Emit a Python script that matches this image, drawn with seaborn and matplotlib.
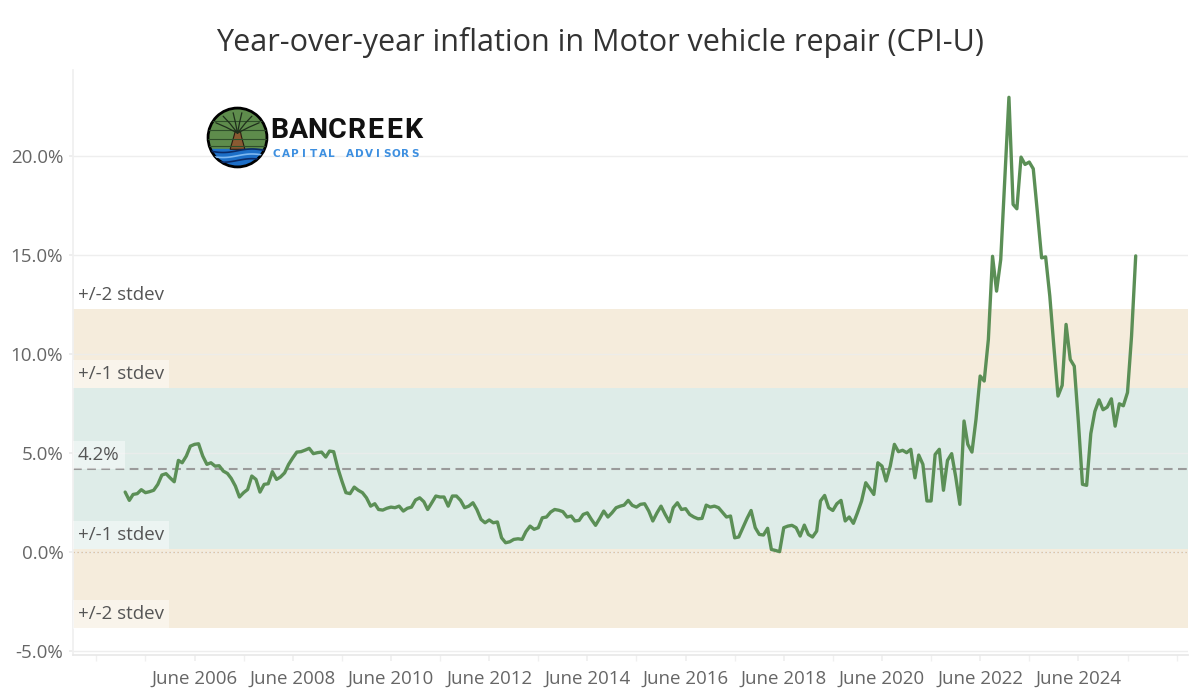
import numpy as np
import pandas as pd
import matplotlib
matplotlib.use("Agg")
import matplotlib.pyplot as plt
import matplotlib.transforms as mtransforms
from matplotlib.patches import Circle, Polygon, Rectangle
import seaborn as sns

# ---------------- data ----------------
start_month = "2005-01-01"
yoy_2005 = [3.03, 2.61, 2.91, 2.95, 3.15, 3.0, 3.05, 3.12, 3.42, 3.89, 3.96, 3.75]
yoy_2006 = [3.55, 4.63, 4.51, 4.85, 5.35, 5.44, 5.47, 4.85, 4.43, 4.51, 4.34, 4.36]
yoy_2007 = [4.09, 3.97, 3.72, 3.33, 2.78, 3.0, 3.16, 3.84, 3.67, 3.03, 3.42, 3.45]
yoy_2008 = [4.06, 3.67, 3.79, 4.0, 4.43, 4.76, 5.05, 5.07, 5.15, 5.24, 4.97, 5.02]
yoy_2009 = [5.05, 4.8, 5.1, 5.07, 4.26, 3.59, 3.0, 2.95, 3.28, 3.12, 3.0, 2.74]
yoy_2010 = [2.32, 2.44, 2.15, 2.12, 2.21, 2.27, 2.24, 2.32, 2.07, 2.21, 2.27, 2.63]
yoy_2011 = [2.74, 2.54, 2.15, 2.49, 2.83, 2.78, 2.78, 2.32, 2.83, 2.83, 2.61, 2.24]
yoy_2012 = [2.32, 2.49, 2.15, 1.65, 1.48, 1.62, 1.48, 1.52, 0.72, 0.47, 0.52, 0.64]
yoy_2013 = [0.67, 0.64, 1.03, 1.31, 1.15, 1.23, 1.73, 1.77, 2.02, 2.15, 2.11, 2.04]
yoy_2014 = [1.77, 1.82, 1.57, 1.6, 1.9, 1.98, 1.65, 1.35, 1.7, 2.07, 1.77, 1.98]
yoy_2015 = [2.24, 2.32, 2.37, 2.61, 2.36, 2.27, 2.41, 2.44, 2.07, 1.57, 1.98, 2.32]
yoy_2016 = [1.9, 1.53, 2.24, 2.49, 2.15, 2.19, 1.9, 1.77, 1.68, 1.7, 2.37, 2.27]
yoy_2017 = [2.32, 2.24, 2.02, 1.77, 1.82, 0.72, 0.76, 1.23, 1.7, 2.1, 1.23, 0.89]
yoy_2018 = [0.86, 1.2, 0.13, 0.08, 0.02, 1.23, 1.31, 1.35, 1.23, 0.81, 1.36, 0.89]
yoy_2019 = [0.76, 1.06, 2.58, 2.86, 2.24, 2.1, 2.44, 2.61, 1.57, 1.77, 1.45, 1.98]
yoy_2020 = [2.58, 3.5, 3.22, 2.91, 4.51, 4.34, 3.59, 4.34, 5.44, 5.07, 5.14, 5.02]
yoy_2021 = [5.19, 3.75, 4.9, 4.43, 2.58, 2.58, 4.93, 5.19, 3.12, 4.63, 4.97, 3.8]
yoy_2022 = [2.41, 6.62, 5.44, 5.05, 6.7, 8.89, 8.64, 10.74, 14.94, 13.18, 14.78, 18.83]
yoy_2023 = [22.97, 17.56, 17.34, 19.95, 19.58, 19.7, 19.36, 17.14, 14.86, 14.91, 12.93, 10.4]
yoy_2024 = [7.88, 8.42, 11.5, 9.73, 9.39, 6.53, 3.42, 3.37, 5.98, 7.1, 7.69, 7.19]
yoy_2025 = [7.32, 7.74, 6.36, 7.49, 7.39, 8.06, 10.9, 14.96]

mean_value = 4.2
band_1sd = [0.15, 8.27]
band_2sd = [-3.86, 12.28]
y_tick_values = [-5, 0, 5, 10, 15, 20]
x_label_years = [2006, 2008, 2010, 2012, 2014, 2016, 2018, 2020, 2022, 2024]
x_minor_years = [2004, 2005, 2007, 2009, 2011, 2013, 2015, 2017, 2019, 2021, 2023, 2025, 2026]
title_text = "Year-over-year inflation in Motor vehicle repair (CPI-U)"

values = (yoy_2005 + yoy_2006 + yoy_2007 + yoy_2008 + yoy_2009 + yoy_2010 + yoy_2011
          + yoy_2012 + yoy_2013 + yoy_2014 + yoy_2015 + yoy_2016 + yoy_2017 + yoy_2018
          + yoy_2019 + yoy_2020 + yoy_2021 + yoy_2022 + yoy_2023 + yoy_2024 + yoy_2025)
dates = pd.date_range(start_month, periods=len(values), freq="MS")
df = pd.DataFrame({"date": dates, "yoy": values})

# ---------------- style ----------------
sns.set_theme(style="white")
plt.rcParams["font.family"] = ["Open Sans", "DejaVu Sans"]

W, H = 1200, 700
fig = plt.figure(figsize=(12, 7), dpi=100)
fig.patch.set_facecolor("white")

ax_l, ax_r, ax_t, ax_b = 73, 1188, 70, 655
ax = fig.add_axes([ax_l / W, 1 - ax_b / H, (ax_r - ax_l) / W, (ax_b - ax_t) / H])
ax.set_facecolor("white")

LINE = "#5b8f56"
TEAL = "#deece8"
SAND = "#f5ecdc"
TXT = "#555555"
TICK = "#666666"

ax.axhspan(band_2sd[0], band_2sd[1], color=SAND, lw=0, zorder=0)
ax.axhspan(band_1sd[0], band_1sd[1], color=TEAL, lw=0, zorder=0.5)

for v in y_tick_values:
    ax.axhline(v, color="#ececec", lw=1.0, zorder=1, alpha=0.85)
ax.axhline(0, color="#d9b994", lw=0.9, ls=(0, (1, 2.2)), zorder=1.5)
ax.axhline(mean_value, color="#9a9a9a", lw=1.5, ls=(0, (4.2, 2.6)), zorder=2)

sns.lineplot(data=df, x="date", y="yoy", ax=ax, color=LINE, lw=2.4, zorder=5)

ax.set_ylim(-5.2, 24.35)
ax.set_xlim(pd.Timestamp("2003-12-10"), pd.Timestamp("2026-08-25"))

ax.set_yticks(y_tick_values)
ax.set_yticklabels([f"{v:.1f}%" for v in y_tick_values], color=TICK, fontsize=13.5)
ax.set_xticks([pd.Timestamp(f"{y}-06-01") for y in x_label_years])
ax.set_xticklabels([f"June {y}" for y in x_label_years], color=TICK, fontsize=13.5)
ax.set_xticks([pd.Timestamp(f"{y}-06-01") for y in x_minor_years], minor=True)
ax.tick_params(axis="y", length=3, color="#ececec", pad=4, left=True)
ax.tick_params(axis="x", which="both", length=4, color="#f0f0f0", pad=7, bottom=True)
ax.set_xlabel("")
ax.set_ylabel("")
for s in ["top", "right"]:
    ax.spines[s].set_visible(False)
ax.spines["left"].set_color("#f0f0f0")
ax.spines["bottom"].set_color("#e8e8e8")
ax.grid(False)

# band labels
lab_trans = mtransforms.blended_transform_factory(ax.transAxes, ax.transData)
labels = [("+/-2 stdev", band_2sd[1], "none"),
          ("+/-1 stdev", band_1sd[1], "white"),
          ("4.2%", mean_value, "white"),
          ("+/-1 stdev", band_1sd[0], "white"),
          ("+/-2 stdev", band_2sd[0], "white")]
for text, yv, fc in labels:
    ax.annotate(text, xy=(0, yv), xycoords=lab_trans, xytext=(3.6, 3.6),
                textcoords="offset points", ha="left", va="bottom",
                fontsize=13.5, color=TXT, zorder=6,
                bbox=dict(boxstyle="square,pad=0.27", fc=fc, ec="none", alpha=0.45))

# title
fig.text(600 / W, 1 - 42 / H, title_text, ha="center", va="center",
         fontsize=22, color="#333333")

# ---------------- logo ----------------
cx, cy, r = 237.5, 137.5, 29.5
lax = fig.add_axes([(cx - r - 2) / W, 1 - (cy + r + 2) / H, (2 * r + 4) / W, (2 * r + 4) / H])
lax.set_xlim(-1.07, 1.07)
lax.set_ylim(-1.07, 1.07)
lax.set_aspect("equal")
lax.axis("off")
clip = Circle((0, 0), 1.0, transform=lax.transData)
bg = Rectangle((-1, -1), 2, 2, color="#5e8c4c")
lax.add_patch(bg); bg.set_clip_path(clip)
water = Rectangle((-1, -1), 2, 0.62, color="#1d6fc8")
lax.add_patch(water); water.set_clip_path(clip)
xs = np.linspace(-1, 1, 50)
for off, col in [(-0.45, "#0b2a66"), (-0.62, "#7fb8f0"), (-0.78, "#0b2a66")]:
    ln, = lax.plot(xs, off + 0.06 * np.sin(xs * 3.2), color=col, lw=1.2)
    ln.set_clip_path(clip)
for off in [0.55, 0.25, -0.05, -0.3]:
    ln, = lax.plot(xs, off + 0.0 * xs, color="#2f4f2a", lw=0.8)
    ln.set_clip_path(clip)
trunk = Polygon([(-0.25, -0.4), (0.25, -0.4), (0.13, 0.05), (0.1, 0.2),
                 (-0.08, 0.2), (-0.12, 0.05)], closed=True, fc="#8a5a32", ec="#2a1a10", lw=0.8)
lax.add_patch(trunk)
for ang in [30, 55, 80, 100, 125, 150]:
    a = np.deg2rad(ang)
    bx = [0.0, 0.45 * np.cos(a), 0.85 * np.cos(a)]
    by = [0.15, 0.15 + 0.4 * np.sin(a), 0.15 + 0.7 * np.sin(a)]
    ln, = lax.plot(bx, by, color="#1f2f1c", lw=0.9)
    ln.set_clip_path(clip)
lax.add_patch(Circle((0, 0), 1.0, fill=False, ec="black", lw=2.0))

brand = "BANCREEK"
for i, ch in enumerate(brand):
    fig.text((279.5 + 19.1 * i) / W, 1 - 130 / H, ch, ha="center", va="center",
             fontsize=20.5, fontweight="bold", color="#111111",
             family=["Roboto", "DejaVu Sans"])
sub = "CAPITAL ADVISORS"
for i, ch in enumerate(sub):
    fig.text((276.6 + 9.2 * i) / W, 1 - 154 / H, ch, ha="center", va="center",
             fontsize=7.5, fontweight="bold", color="#3d8fe0", family=["DejaVu Sans"])

fig.savefig("out.png", dpi=100, facecolor="white")
